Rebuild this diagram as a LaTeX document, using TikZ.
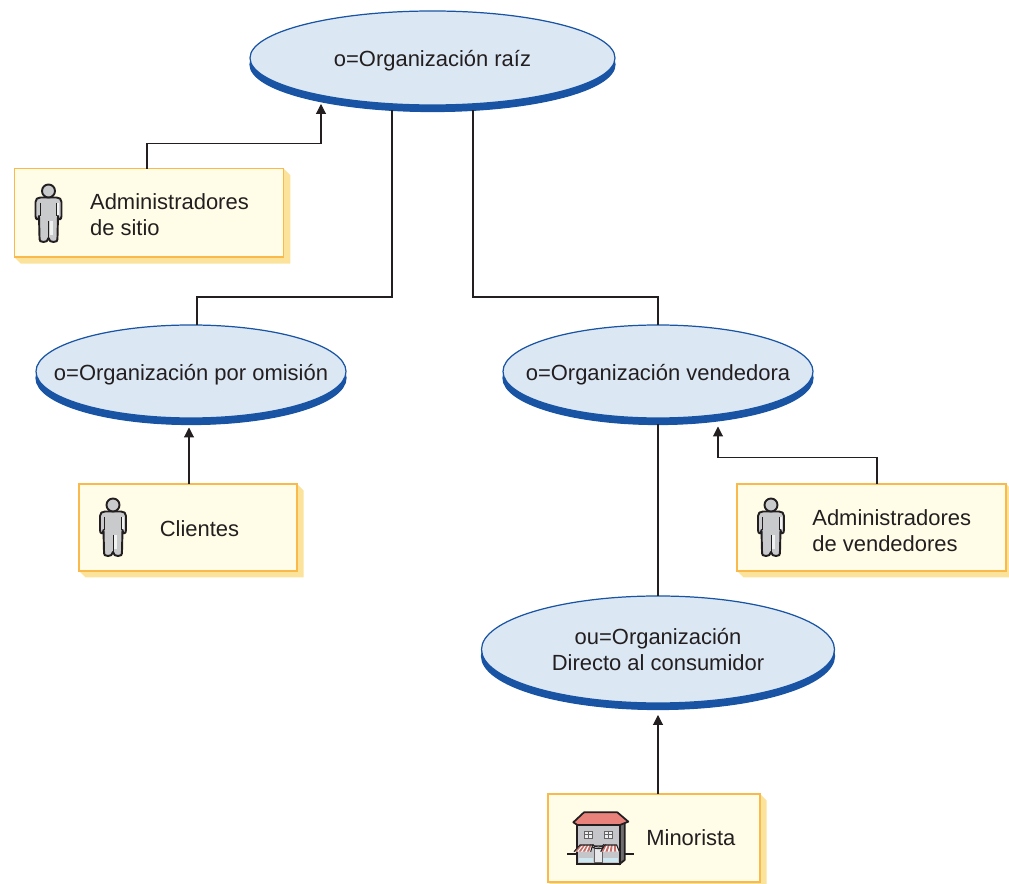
\documentclass[tikz,border=0pt]{standalone}
\usepackage{fontspec}
\setmainfont{Liberation Sans}
\usetikzlibrary{arrows.meta,positioning,shapes.geometric,shadows,calc,backgrounds}
\definecolor{orgfill}{RGB}{220,231,244}
\definecolor{orgblue}{RGB}{24,84,163}
\definecolor{boxfill}{RGB}{255,253,232}
\definecolor{boxline}{RGB}{249,185,75}
\definecolor{boxback}{RGB}{251,227,155}
\definecolor{inkdark}{RGB}{35,31,32}
\definecolor{persongray}{RGB}{201,202,204}
\definecolor{roofred}{RGB}{233,130,122}
\definecolor{wallgray}{RGB}{196,198,202}
\definecolor{glassblue}{RGB}{205,232,240}
\newcommand{\px}{0.02cm}
\tikzset{
  orgnode/.style={ellipse, draw=orgblue, fill=orgfill, line width=0.7pt, inner xsep=-30*\px, inner ysep=0pt,
    outer sep=0pt, align=center, text=inkdark,
    font=\fontsize{12.5}{14.8}\selectfont,
    copy shadow={shadow xshift=0pt, shadow yshift=-6.5*\px, fill=orgblue, draw=orgblue}},
  oneline/.style={text height=11pt, text depth=0.8pt},
  rolebox/.style={rectangle, draw=boxline, fill=boxfill, line width=0.85pt, inner sep=0pt, outer sep=0pt},
  rolelabel/.style={anchor=west, inner sep=0pt, align=left, text=inkdark,
    font=\fontsize{12.5}{14.8}\selectfont},
  treeline/.style={inkdark, line width=0.6pt},
  linkarrow/.style={inkdark, line width=0.6pt, -{Stealth[length=5.6pt,width=5.6pt,inset=0pt]}},
  person/.pic={
    % Body
    \draw[inkdark, fill=persongray, line width=1.1pt, line join=round]
      (-8,6.5) -- (8,6.5) .. controls (11,6.5) and (13,8) .. (13,11) -- (13,25)
      .. controls (13,29.5) and (9.5,29.5) .. (9.5,25) -- (9,46)
      .. controls (9,50.5) and (8,51) .. (5,51) .. controls (2,51) and (1,50) .. (0,47)
      .. controls (-1,50) and (-2,51) .. (-5,51) .. controls (-8,51) and (-9,50.5) .. (-9,46)
      -- (-9.5,25) .. controls (-9.5,29.5) and (-13,29.5) .. (-13,25) -- (-13,11)
      .. controls (-13,8) and (-11,6.5) .. (-8,6.5) -- cycle;
    \fill[white!75!persongray] (8.6,12) rectangle (10.6,24);
    \fill[white!75!persongray] (1,30) rectangle (4,44);
    \draw[inkdark, line width=0.5pt] (-8.5,12) -- (-8.5,25) (8,12) -- (8,25) (0,30) -- (0,47);
    % Head
    \draw[inkdark, fill=persongray, line width=1.1pt] (0,0) circle (6.5);
  },
  storefront/.pic={
    % Ground line
    \draw[inkdark, line width=0.7pt] (22,147) -- (52,147) (190,147) -- (222,147);
    % Walls
    \draw[inkdark, fill=inkdark!65, line width=1pt, line join=round] (178,58) -- (194,48) -- (194,165) -- (178,178) -- cycle;
    \draw[inkdark, fill=wallgray, line width=1pt] (52,58) rectangle (180,176);
    % Roof
    \draw[inkdark, fill=roofred, line width=1pt, line join=round]
      (40,52) -- (72,22) -- (172,22) -- (205,50) -- (180,60) -- (52,60) -- cycle;
    % Upper windows
    \foreach \wx in {72,133} {
      \draw[inkdark!70, fill=white!70!wallgray, line width=0.5pt] (\wx,78) rectangle ++(25,22);
      \draw[inkdark!70, line width=0.4pt] (\wx+12.5,78) -- ++(0,22) (\wx,89) -- ++(25,0);
    }
    % Shop windows and door
    \fill[glassblue] (56,160) rectangle (100,172);
    \fill[glassblue] (130,160) rectangle (174,172);
    \draw[inkdark!70, fill=white!60!wallgray, line width=0.5pt] (102,122) rectangle (128,172);
    \draw[inkdark, line width=0.6pt] (92,118) arc (180:0:23 and 13);
    \draw[inkdark, line width=0.6pt] (98,118) arc (180:0:17 and 8);
    % Awnings
    \fill[white] (42,140) -- (60,120) -- (98,120) -- (92,140) -- cycle;
    \fill[white] (122,140) -- (134,120) -- (170,120) -- (178,140) -- cycle;
    \foreach \ax in {0,1,2,3} {
      \fill[roofred!85!black] (43+\ax*12.5,140) -- (62+\ax*9,120) -- (67+\ax*9,120) -- (50+\ax*12.5,140) -- cycle;
      \fill[roofred!85!black] (123+\ax*13,140) -- (135+\ax*9,120) -- (140+\ax*9,120) -- (130+\ax*13,140) -- cycle;
    }
    \draw[inkdark, line width=0.6pt] (42,140) -- (60,120) -- (98,120) -- (92,140);
    \draw[inkdark, line width=0.6pt] (122,140) -- (134,120) -- (170,120) -- (178,140);
  },
}
\begin{document}
\begin{tikzpicture}[x=\px, y=-\px]
\useasboundingbox (0,0) rectangle (1009,884);
% --- Organisation ellipses ---
\node[orgnode, oneline, minimum width=365*\px, minimum height=94*\px] (root) at (432.5,58) {o=Organización raíz};
\node[orgnode, oneline, minimum width=310*\px, minimum height=93*\px] (omision) at (191,371.5) {o=Organización por omisión};
\node[orgnode, oneline, minimum width=310*\px, minimum height=93*\px] (vendedora) at (658,371.5) {o=Organización vendedora};
\node[orgnode, minimum width=353*\px, minimum height=107*\px] (directo) at (658,649.5) {ou=Organización\\Directo al consumidor};
% --- Role boxes ---
\node[rolebox, minimum width=269.5*\px, minimum height=88.5*\px] (sitio) at (149,213) {};
\node[rolebox, minimum width=218*\px, minimum height=87*\px] (clientes) at (188,527.5) {};
\node[rolebox, minimum width=269*\px, minimum height=87*\px] (vendedores) at (871.5,527.5) {};
\node[rolebox, minimum width=212*\px, minimum height=88*\px] (minorista) at (654,838) {};
% Box backs
\begin{scope}[on background layer]
\foreach \b in {sitio,clientes,vendedores,minorista}
  \fill[boxback] (\b.north east) -- ++(6.5,6.5) -- ($(\b.south east)+(6.5,6.5)$)
    -- ($(\b.south west)+(6.5,6.5)$) -- (\b.south west) -- cycle;
\end{scope}
% Labels
\node[rolelabel] (sitiotext) at ($(sitio.west)+(75.5,2)$) {Administradores\\de sitio};
\node[rolelabel] (clientestext) at ($(clientes.west)+(80.5,1)$) {Clientes};
\node[rolelabel] (vendedorestext) at ($(vendedores.west)+(75,3)$) {Administradores\\de vendedores};
\node[rolelabel] (minoristatext) at ($(minorista.west)+(98,0)$) {Minorista};
% Icons
\pic at (48.5,191) {person};
\pic at (113,505) {person};
\pic at (771,505) {person};
\pic[scale=0.3333] at (560,805) {storefront};
% --- Connectors ---
\coordinate (branch) at (0,297);
\draw[treeline] ($(root.south)+(-40.5,5)$) |- (branch -| {$(omision.north)+(6,0)$}) -- ($(omision.north)+(6,0)$);
\draw[treeline] ($(root.south)+(40.5,5)$) |- (branch -| vendedora.north) -- (vendedora.north);
\draw[treeline] ($(vendedora.south)+(0,6)$) -- (directo.north);
\draw[linkarrow] ($(sitio.north)+(-2,0)$) |- ++(174,-25) -- ($(root.south)+(-111.5,-1)$);
\draw[linkarrow] ($(clientes.north)+(1,0)$) -- ($(omision.south)+(-2,9.5)$);
\draw[linkarrow] ($(vendedores.north)+(5.5,0)$) |- ($(vendedora.south)+(60,39.5)$) -- ($(vendedora.south)+(60,8.5)$);
\draw[linkarrow] (minorista.north -| directo.south) -- ($(directo.south)+(0,12)$);
\end{tikzpicture}
\end{document}
